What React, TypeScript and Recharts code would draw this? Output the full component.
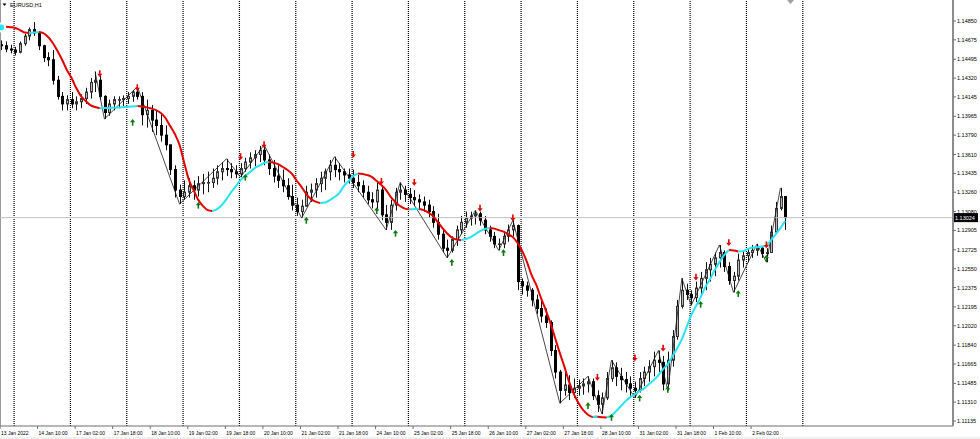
import React from 'react';
import { ComposedChart, Bar, Line, XAxis, YAxis, ReferenceLine } from 'recharts';

// EURUSD H1 — each row is one 2-hour step of the chart (slot); bar index = slot*2
const firstOpen = 1.1463;
const highs = [
  1.1467, 1.1466, 1.1463, 1.1461, 1.1466, 1.1473, 1.1479, 1.1484, 1.1474, 1.1463,
  1.1456, 1.1458, 1.1434, 1.1419, 1.1416, 1.1419, 1.1415, 1.1417, 1.1423, 1.1432,
  1.1438, 1.1434, 1.1416, 1.1412, 1.1415, 1.1415, 1.1416, 1.1419, 1.1421, 1.1424,
  1.1419, 1.1412, 1.1407, 1.1402, 1.1398, 1.1388, 1.137, 1.1351, 1.1333, 1.1337,
  1.1339, 1.1337, 1.1341, 1.1343, 1.1345, 1.1348, 1.1351, 1.1354, 1.1357, 1.1353,
  1.1351, 1.1353, 1.1358, 1.1363, 1.1365, 1.1369, 1.137, 1.1361, 1.1356, 1.1351,
  1.1347, 1.1339, 1.1333, 1.1321, 1.1319, 1.1332, 1.1334, 1.1339, 1.1345, 1.1348,
  1.1356, 1.1359, 1.1353, 1.1348, 1.1348, 1.1347, 1.1342, 1.1337, 1.1332, 1.1326,
  1.1335, 1.1332, 1.1314, 1.1319, 1.133, 1.1335, 1.1332, 1.133, 1.1328, 1.1324,
  1.1322, 1.1319, 1.1313, 1.1306, 1.1291, 1.1282, 1.1285, 1.1295, 1.1304, 1.1308,
  1.1308, 1.1309, 1.1308, 1.1304, 1.1295, 1.1289, 1.1283, 1.1289, 1.1296, 1.13,
  1.1296, 1.1246, 1.1243, 1.1237, 1.1231, 1.1226, 1.1218, 1.1207, 1.1184, 1.1161,
  1.1159, 1.1156, 1.1153, 1.1152, 1.1153, 1.1155, 1.1153, 1.1142, 1.114, 1.1159,
  1.117, 1.1168, 1.1163, 1.1159, 1.1155, 1.115, 1.1159, 1.1164, 1.117, 1.1178,
  1.1179, 1.1174, 1.1178, 1.1198, 1.1226, 1.1246, 1.1241, 1.1235, 1.1243, 1.1252,
  1.1261, 1.1265, 1.127, 1.1277, 1.1272, 1.1261, 1.1252, 1.1269, 1.1272, 1.1274,
  1.1277, 1.1278, 1.1276, 1.1274, 1.1295, 1.1317, 1.133, 1.1322,
];
const lows = [
  1.1458, 1.1456, 1.1455, 1.1453, 1.1455, 1.1462, 1.1467, 1.1471, 1.1458, 1.1447,
  1.1443, 1.1426, 1.1412, 1.1402, 1.1402, 1.1404, 1.1402, 1.1404, 1.1408, 1.1413,
  1.1419, 1.1412, 1.1394, 1.1397, 1.1402, 1.1404, 1.1406, 1.1408, 1.141, 1.1412,
  1.1388, 1.1386, 1.1382, 1.1379, 1.1373, 1.1365, 1.1342, 1.1321, 1.1315, 1.1319,
  1.1321, 1.1319, 1.1322, 1.1324, 1.1326, 1.133, 1.1333, 1.1337, 1.1341, 1.1339,
  1.1339, 1.134, 1.1345, 1.1348, 1.135, 1.1354, 1.1351, 1.1342, 1.1335, 1.133,
  1.1326, 1.1319, 1.1309, 1.1304, 1.1302, 1.1313, 1.1317, 1.1321, 1.1326, 1.1328,
  1.1337, 1.134, 1.1337, 1.1335, 1.1334, 1.133, 1.1326, 1.1321, 1.1315, 1.1311,
  1.1309, 1.13, 1.1291, 1.1291, 1.1309, 1.1319, 1.1317, 1.1315, 1.1313, 1.1311,
  1.1308, 1.1302, 1.1293, 1.1282, 1.127, 1.1265, 1.127, 1.1276, 1.1287, 1.1293,
  1.1295, 1.1296, 1.1295, 1.1287, 1.128, 1.1274, 1.1272, 1.1274, 1.128, 1.1285,
  1.1235, 1.1231, 1.1229, 1.122, 1.1213, 1.1205, 1.12, 1.1174, 1.1153, 1.113,
  1.1137, 1.1133, 1.1135, 1.1137, 1.1138, 1.114, 1.1133, 1.1122, 1.112, 1.1133,
  1.115, 1.1146, 1.1142, 1.114, 1.1137, 1.1135, 1.114, 1.1146, 1.115, 1.1155,
  1.1159, 1.1142, 1.1142, 1.1164, 1.1189, 1.1218, 1.1226, 1.1221, 1.1224, 1.1231,
  1.1235, 1.1243, 1.1248, 1.1256, 1.1252, 1.124, 1.1233, 1.1244, 1.1256, 1.1261,
  1.1265, 1.1267, 1.1265, 1.1261, 1.127, 1.1289, 1.1309, 1.1291,
];
const closes = [
  1.1462, 1.1459, 1.1458, 1.1456, 1.1464, 1.1471, 1.1477, 1.1474, 1.1462, 1.1451,
  1.1449, 1.143, 1.1415, 1.1408, 1.1412, 1.1408, 1.141, 1.1413, 1.1419, 1.1428,
  1.143, 1.1415, 1.14, 1.1408, 1.1412, 1.1412, 1.1413, 1.1415, 1.1419, 1.1415,
  1.1398, 1.1402, 1.1393, 1.1388, 1.1379, 1.137, 1.1347, 1.1328, 1.1322, 1.1326,
  1.1332, 1.1328, 1.1334, 1.1335, 1.1335, 1.1339, 1.1345, 1.1348, 1.1347, 1.1345,
  1.1343, 1.1348, 1.1354, 1.1358, 1.1361, 1.1365, 1.1356, 1.1348, 1.1341, 1.1337,
  1.1332, 1.1322, 1.1314, 1.1308, 1.1313, 1.1326, 1.1328, 1.1334, 1.1339, 1.1345,
  1.1351, 1.1347, 1.1345, 1.1342, 1.1339, 1.1335, 1.1332, 1.1326, 1.1319, 1.1317,
  1.1328, 1.1305, 1.1298, 1.1314, 1.1326, 1.1328, 1.1324, 1.1321, 1.1319, 1.1317,
  1.1314, 1.1308, 1.1298, 1.1287, 1.1274, 1.1272, 1.1282, 1.1291, 1.1298, 1.1302,
  1.1304, 1.1306, 1.13, 1.1291, 1.1285, 1.1278, 1.1278, 1.1285, 1.1291, 1.1295,
  1.1243, 1.1239, 1.1235, 1.1226, 1.1218, 1.1211, 1.1205, 1.1179, 1.1159, 1.1142,
  1.1147, 1.114, 1.1144, 1.1146, 1.1148, 1.115, 1.1137, 1.1129, 1.1135, 1.1153,
  1.1163, 1.1155, 1.1152, 1.1148, 1.1144, 1.1142, 1.1153, 1.1159, 1.1164, 1.117,
  1.1168, 1.1148, 1.117, 1.1192, 1.122, 1.1235, 1.1231, 1.1228, 1.1237, 1.1246,
  1.1254, 1.1259, 1.1265, 1.127, 1.1257, 1.1244, 1.1248, 1.1263, 1.1267, 1.127,
  1.1272, 1.1274, 1.1269, 1.127, 1.1289, 1.1311, 1.1322, 1.13024,
];
// smoothed trend line (red when falling, cyan when rising)
const maValues = [
  1.1479, 1.14796, 1.14792, 1.14785, 1.14766, 1.14743, 1.14738, 1.14743, 1.14748, 1.14738,
  1.14701, 1.14646, 1.14571, 1.14488, 1.14395, 1.1432, 1.14227, 1.14153, 1.14107, 1.14069,
  1.14051, 1.14039, 1.14041, 1.14042, 1.14044, 1.14046, 1.1405, 1.14054, 1.14057, 1.1406,
  1.14056, 1.14048, 1.14037, 1.14023, 1.13995, 1.13949, 1.13874, 1.138, 1.13698, 1.13531,
  1.13373, 1.1328, 1.13187, 1.13131, 1.13094, 1.13085, 1.13103, 1.13141, 1.13196, 1.13261,
  1.13317, 1.13373, 1.1341, 1.13447, 1.13484, 1.13507, 1.13531, 1.1354, 1.13535, 1.13521,
  1.13494, 1.13466, 1.13428, 1.13364, 1.13308, 1.13243, 1.13196, 1.13173, 1.13159, 1.13164,
  1.13187, 1.13215, 1.13252, 1.13317, 1.13364, 1.1341, 1.13433, 1.1343, 1.13419, 1.13401,
  1.13364, 1.13326, 1.1328, 1.13215, 1.13168, 1.13131, 1.13108, 1.13101, 1.13103, 1.13105,
  1.13094, 1.13071, 1.13038, 1.12983, 1.12927, 1.12876, 1.12839, 1.1282, 1.12815, 1.12825,
  1.12843, 1.12871, 1.12899, 1.12918, 1.12927, 1.12922, 1.12908, 1.12894, 1.12871, 1.12843,
  1.12788, 1.12713, 1.12611, 1.1249, 1.12397, 1.12277, 1.12165, 1.12044, 1.11905, 1.11766,
  1.11636, 1.11496, 1.11385, 1.11301, 1.11236, 1.11194, 1.11173, 1.11176, 1.11171, 1.11169,
  1.11185, 1.11227, 1.11273, 1.1132, 1.11357, 1.11385, 1.11413, 1.1144, 1.11478, 1.11515,
  1.11561, 1.11617, 1.11664, 1.11738, 1.11812, 1.11896, 1.12007, 1.12119, 1.12202, 1.12286,
  1.12379, 1.12453, 1.12537, 1.12611, 1.12676, 1.12723, 1.12718, 1.12709, 1.12713, 1.12732,
  1.12746, 1.1275, 1.12755, 1.12769, 1.12815, 1.12871, 1.12927, 1.12992,
];
// zigzag swing points: [slot, price]
const zigzagPoints: [number, number][] = [
  [20, 1.1438], [22, 1.1394], [29, 1.1424], [38, 1.1315], [48, 1.1357], [51, 1.134],
  [56, 1.137], [64, 1.1302], [71, 1.1359], [82, 1.1291], [85, 1.1335], [95, 1.1265],
  [101, 1.1309], [106, 1.1272], [109, 1.13], [119, 1.113], [125, 1.1155], [128, 1.112],
  [130, 1.117], [135, 1.1135], [140, 1.1179], [142, 1.1142], [145, 1.1246], [147, 1.1221],
  [153, 1.1277], [156, 1.1233], [161, 1.1278], [163, 1.1261], [166, 1.133],
];
const sellArrows: [number, number][] = [
  [21, 1.1436], [29, 1.1423], [51, 1.1359], [56, 1.137], [75, 1.1361], [81, 1.1336],
  [88, 1.1335], [102, 1.1311], [109, 1.1302], [127, 1.1154], [135, 1.1172], [141, 1.1181],
  [148, 1.1247], [155, 1.1279], [163, 1.1277],
];
const buyArrows: [number, number][] = [
  [28, 1.1391], [42, 1.1314], [52, 1.134], [65, 1.13], [80, 1.1309], [84, 1.1288],
  [96, 1.1261], [107, 1.127], [125, 1.1128], [130, 1.1117], [136, 1.1135], [142, 1.1143],
  [149, 1.1222], [157, 1.1232], [163, 1.1265],
];
const xTickBars = [0, 16, 32, 48, 64, 80, 96, 112, 128, 144, 160, 176, 192, 208, 224, 240, 256, 272, 288, 304, 320];
const xTickLabels = [
  '13 Jan 2022', '14 Jan 10:00', '17 Jan 02:00', '17 Jan 18:00', '18 Jan 10:00', '19 Jan 02:00',
  '19 Jan 18:00', '20 Jan 10:00', '21 Jan 02:00', '21 Jan 18:00', '24 Jan 10:00', '25 Jan 02:00',
  '25 Jan 18:00', '26 Jan 10:00', '27 Jan 02:00', '27 Jan 18:00', '28 Jan 10:00', '31 Jan 02:00',
  '31 Jan 18:00', '1 Feb 10:00', '2 Feb 02:00',
];
const daySeparatorBars = [6, 30, 54, 78, 102, 126, 150, 174, 198, 222, 246, 270, 294, 318, 342];
const yTicks = [
  1.1485, 1.14675, 1.14495, 1.1432, 1.14145, 1.13965, 1.1379, 1.1361, 1.13435, 1.1326, 1.1308,
  1.12905, 1.12725, 1.1255, 1.12375, 1.12195, 1.1202, 1.1184, 1.11665, 1.11485, 1.1131, 1.11135,
];
const bidPrice = 1.13024;
const symbolTitle = 'EURUSD,H1';

const W = 980;
const H = 439;
const FONT = '"Liberation Sans", Arial, sans-serif';
const RED = '#e00000';
const CYAN = '#28e3f2';

const slotToBar = (i: number) => i * 2 + 0.5;
const zzMap = new Map(zigzagPoints.map(([s, p]) => [s, p]));
const sellMap = new Map(sellArrows.map(([s, p]) => [s, p]));
const buyMap = new Map(buyArrows.map(([s, p]) => [s, p]));

const rows = highs.map((h, i) => {
  const ma = maValues[i];
  const prev = maValues[i - 1];
  const next = maValues[i + 1];
  const upIn = prev !== undefined && ma > prev;
  const upOut = next !== undefined && next > ma;
  const downIn = prev !== undefined && ma <= prev;
  const downOut = next !== undefined && next <= ma;
  return {
    x: slotToBar(i),
    open: i === 0 ? firstOpen : closes[i - 1],
    high: h,
    low: lows[i],
    close: closes[i],
    range: [lows[i], h],
    maUp: upIn || upOut ? ma : null,
    maDown: downIn || downOut ? ma : null,
    zz: zzMap.has(i) ? zzMap.get(i) : null,
    sell: sellMap.has(i) ? sellMap.get(i) : null,
    buy: buyMap.has(i) ? buyMap.get(i) : null,
  };
});

const Candle = (props: any) => {
  const { x, y, width, height, payload } = props;
  if (!payload || y == null || height == null || isNaN(y)) return null;
  const { open, close, high, low } = payload;
  const cx = Math.round(x + width / 2) + 0.5;
  const k = high - low > 0 ? height / (high - low) : 0;
  const yOf = (v: number) => y + (high - v) * k;
  const top = yOf(Math.max(open, close));
  const bot = yOf(Math.min(open, close));
  const bull = close >= open;
  return (
    <g>
      <line x1={cx} x2={cx} y1={y} y2={y + height} stroke="#111" strokeWidth={1} />
      <rect x={cx - 1} y={top} width={2} height={Math.max(bot - top, 0.6)}
        fill={bull ? '#b8b8b8' : '#000'} stroke={bull ? '#333' : '#000'} strokeWidth={1} />
    </g>
  );
};

const DownArrow = (props: any) => {
  const { cx, cy, value } = props;
  if (value == null || cy == null || isNaN(cy)) return null;
  return (
    <g key={`s${cx}`}>
      <line x1={cx} x2={cx} y1={cy - 3.5} y2={cy + 1} stroke={RED} strokeWidth={1.6} />
      <path d={`M${cx - 2.6},${cy} L${cx + 2.6},${cy} L${cx},${cy + 3.2} Z`} fill={RED} />
    </g>
  );
};

const UpArrow = (props: any) => {
  const { cx, cy, value } = props;
  if (value == null || cy == null || isNaN(cy)) return null;
  return (
    <g key={`b${cx}`}>
      <line x1={cx} x2={cx} y1={cy + 3.5} y2={cy - 1} stroke="#0d7a0d" strokeWidth={1.6} />
      <path d={`M${cx - 2.6},${cy} L${cx + 2.6},${cy} L${cx},${cy - 3.2} Z`} fill="#0d7a0d" />
    </g>
  );
};

const XTick = (props: any) => {
  const { x, y, payload } = props;
  const idx = xTickBars.indexOf(payload.value);
  return (
    <text x={x + 1} y={y} dy={4} fontSize={5} fontFamily={FONT} fill="#000" textAnchor="start">
      {idx >= 0 ? xTickLabels[idx] : ''}
    </text>
  );
};

const YTick = (props: any) => {
  const { x, y, payload } = props;
  return (
    <text x={x} y={y} dy={2} fontSize={5.5} fontFamily={FONT} fill="#000" textAnchor="start">
      {Number(payload.value).toFixed(5)}
    </text>
  );
};

const BidTag = (props: any) => {
  const vb = props.viewBox || {};
  const x0 = (vb.x || 0) + (vb.width || 0);
  const y0 = vb.y || 0;
  return (
    <g>
      <rect x={x0} y={y0 - 4.5} width={25} height={9} fill="#000" />
      <text x={x0 + 2} y={y0 + 2} fontSize={5.5} fontFamily={FONT} fill="#fff">
        {bidPrice.toFixed(5)}
      </text>
    </g>
  );
};

export default function App() {
  return (
    <div style={{ position: 'absolute', left: 0, top: 0, width: W, height: H, background: '#fff', overflow: 'hidden' }}>
      <ComposedChart width={W} height={H} data={rows} margin={{ top: 0, right: 0, bottom: 0, left: 0 }}>
        <XAxis
          dataKey="x"
          type="number"
          domain={[0, 406]}
          allowDataOverflow
          ticks={xTickBars}
          interval={0}
          tickSize={3}
          tickMargin={2}
          height={13}
          tick={<XTick />}
          axisLine={{ stroke: '#6e6e6e' }}
          tickLine={{ stroke: '#6e6e6e' }}
        />
        <YAxis
          orientation="right"
          type="number"
          domain={[1.11089, 1.15045]}
          allowDataOverflow
          ticks={yTicks}
          interval={0}
          width={27}
          tickSize={3}
          tickMargin={1}
          tick={<YTick />}
          axisLine={{ stroke: '#8c8c8c', strokeWidth: 2 }}
          tickLine={{ stroke: '#6e6e6e' }}
        />
        {daySeparatorBars.map((b) => (
          <ReferenceLine key={`d${b}`} x={b} stroke="#000" strokeDasharray="1 1" strokeWidth={1.2} />
        ))}
        <ReferenceLine x={0} stroke="#9a9a9a" strokeWidth={2} />
        <ReferenceLine y={bidPrice} stroke="#c0c0c0" strokeWidth={1} label={<BidTag />} />
        <Bar dataKey="range" barSize={3} shape={<Candle />} isAnimationActive={false} />
        <Line dataKey="zz" type="linear" stroke="#1a1a1a" strokeWidth={0.8} dot={false} connectNulls isAnimationActive={false} />
        <Line dataKey="maDown" type="monotone" stroke={RED} strokeWidth={2} dot={false} connectNulls={false} isAnimationActive={false} />
        <Line dataKey="maUp" type="monotone" stroke={CYAN} strokeWidth={2} dot={false} connectNulls={false} isAnimationActive={false} />
        <Line dataKey="sell" stroke="none" dot={<DownArrow />} activeDot={false} connectNulls={false} isAnimationActive={false} />
        <Line dataKey="buy" stroke="none" dot={<UpArrow />} activeDot={false} connectNulls={false} isAnimationActive={false} />
      </ComposedChart>
      <div style={{ position: 'absolute', left: 2, top: 1, display: 'flex', alignItems: 'center', fontFamily: FONT, fontSize: 5.5, color: '#000', lineHeight: '8px' }}>
        <svg width={6} height={8} style={{ marginRight: 2 }}>
          <path d="M0.5,2.5 L4.5,2.5 L2.5,5 Z" fill="#000" />
        </svg>
        <span>{symbolTitle}</span>
      </div>
      <svg width={10} height={5} style={{ position: 'absolute', left: 786, top: 0 }}>
        <path d="M1,0 L8,0 L4.5,4 Z" fill="#a0a0a0" />
      </svg>
      <div style={{ position: 'absolute', left: 0, top: 437, width: W, height: 2, background: '#f0f0f0' }} />
    </div>
  );
}
